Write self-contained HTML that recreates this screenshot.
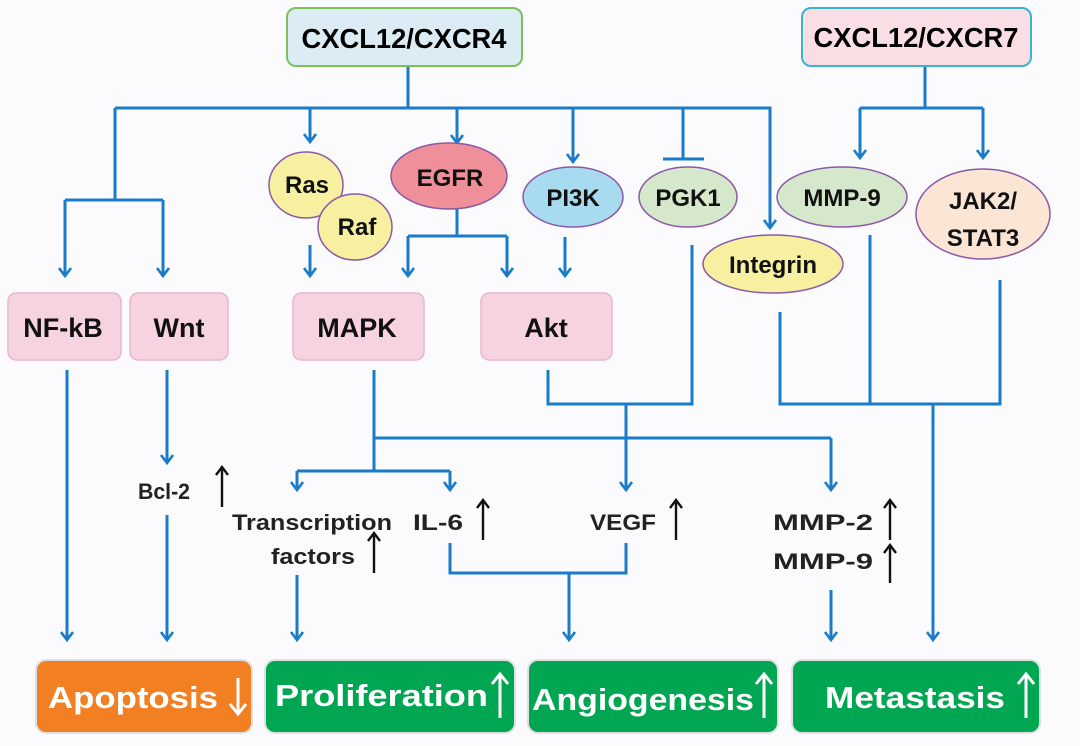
<!DOCTYPE html>
<html><head><meta charset="utf-8"><style>
body{margin:0;background:#fbfbfd}
svg{display:block}
text{font-family:"Liberation Sans",sans-serif;font-weight:bold}
</style></head><body>
<svg width="1080" height="746" viewBox="0 0 1080 746" xmlns="http://www.w3.org/2000/svg">
<defs>
<marker id="a" markerWidth="14" markerHeight="14" refX="12" refY="7" orient="auto" markerUnits="userSpaceOnUse" viewBox="0 0 14 14">
<path d="M4,1 L12,7 L4,13" fill="none" stroke="#1a7cc8" stroke-width="2.6"/></marker>
<marker id="k" markerWidth="14" markerHeight="14" refX="12" refY="7" orient="auto" markerUnits="userSpaceOnUse" viewBox="0 0 14 14">
<path d="M4,1 L12,7 L4,13" fill="none" stroke="#111" stroke-width="2.4"/></marker>
</defs>
<rect width="1080" height="746" fill="#fbfbfd"/>
<g fill="none" stroke="#1a7cc8" stroke-width="3">
<path d="M408,66 V108"/>
<path d="M115,108 H770 V228" marker-end="url(#a)"/>
<path d="M115,108 V200 M65,200 H163"/>
<path d="M65,200 V276" marker-end="url(#a)"/>
<path d="M163,200 V276" marker-end="url(#a)"/>
<path d="M310,108 V142" marker-end="url(#a)"/>
<path d="M457,108 V143" marker-end="url(#a)"/>
<path d="M573,108 V162" marker-end="url(#a)"/>
<path d="M683,108 V159 M663,159 H704"/>
<path d="M310,245 V276" marker-end="url(#a)"/>
<path d="M457,209 V236 M408,236 H507"/>
<path d="M408,236 V276" marker-end="url(#a)"/>
<path d="M507,236 V276" marker-end="url(#a)"/>
<path d="M565,237 V276" marker-end="url(#a)"/>
<path d="M925,66 V108 M860,108 H983"/>
<path d="M860,108 V158" marker-end="url(#a)"/>
<path d="M983,108 V158" marker-end="url(#a)"/>
<path d="M67,370 V640" marker-end="url(#a)"/>
<path d="M167,370 V463" marker-end="url(#a)"/>
<path d="M167,515 V640" marker-end="url(#a)"/>
<path d="M374,370 V471 M297,471 H450 M374,438 H831"/>
<path d="M297,471 V490" marker-end="url(#a)"/>
<path d="M450,471 V490" marker-end="url(#a)"/>
<path d="M831,438 V490" marker-end="url(#a)"/>
<path d="M548,370 V404 H692 V245"/>
<path d="M626,404 V490" marker-end="url(#a)"/>
<path d="M780,312 V404 H1000 V280 M870,235 V404"/>
<path d="M933,404 V640" marker-end="url(#a)"/>
<path d="M297,575 V640" marker-end="url(#a)"/>
<path d="M450,543 V573 H626 V543"/>
<path d="M569,573 V640" marker-end="url(#a)"/>
<path d="M831,590 V640" marker-end="url(#a)"/>
</g>
<rect x="287" y="8" width="235" height="58" rx="9" fill="#dcecf4" stroke="#7cc05a" stroke-width="2"/>
<text x="404" y="48" font-size="28" text-anchor="middle" textLength="205" lengthAdjust="spacingAndGlyphs">CXCL12/CXCR4</text>
<rect x="802" y="8" width="229" height="58" rx="9" fill="#f9dfe3" stroke="#3ab3d0" stroke-width="2"/>
<text x="916" y="47" font-size="28" text-anchor="middle" textLength="205" lengthAdjust="spacingAndGlyphs">CXCL12/CXCR7</text>
<g stroke="#8a5aa8" stroke-width="1.5">
<ellipse cx="306" cy="185" rx="37" ry="33" fill="#f6f0a0"/>
<ellipse cx="355" cy="227" rx="37" ry="33" fill="#f6f0a0"/>
<ellipse cx="449" cy="176" rx="58" ry="33" fill="#ef8f99"/>
<ellipse cx="573" cy="197" rx="50" ry="30" fill="#a8daf0"/>
<ellipse cx="688" cy="197" rx="49" ry="30" fill="#d6e8cc"/>
<ellipse cx="842" cy="197" rx="65" ry="30" fill="#d6e8cc"/>
<ellipse cx="983" cy="214" rx="67" ry="45" fill="#fbe6d6"/>
<ellipse cx="773" cy="264" rx="70" ry="29" fill="#f6f0a0"/>
</g>
<g font-size="24" text-anchor="middle" fill="#111">
<text x="307" y="193">Ras</text>
<text x="357" y="235">Raf</text>
<text x="450" y="186">EGFR</text>
<text x="573" y="206">PI3K</text>
<text x="688" y="206">PGK1</text>
<text x="842" y="206">MMP-9</text>
<text x="983" y="209">JAK2/</text>
<text x="983" y="246">STAT3</text>
<text x="773" y="273">Integrin</text>
</g>
<g fill="#f7d2e0" stroke="#e8b8c8" stroke-width="1.5">
<rect x="8" y="293" width="113" height="67" rx="8"/>
<rect x="130" y="293" width="98" height="67" rx="8"/>
<rect x="293" y="293" width="131" height="67" rx="8"/>
<rect x="481" y="293" width="131" height="67" rx="8"/>
</g>
<g font-size="27" text-anchor="middle" fill="#111">
<text x="63" y="337">NF-kB</text>
<text x="179" y="337">Wnt</text>
<text x="357" y="337">MAPK</text>
<text x="546" y="337">Akt</text>
</g>
<g font-size="22" fill="#222">
<text x="138" y="499" textLength="52" lengthAdjust="spacingAndGlyphs">Bcl-2</text>
<text x="232" y="530" textLength="160" lengthAdjust="spacingAndGlyphs">Transcription</text>
<text x="271" y="564" textLength="84" lengthAdjust="spacingAndGlyphs">factors</text>
<text x="413" y="530" textLength="50" lengthAdjust="spacingAndGlyphs">IL-6</text>
<text x="590" y="530" textLength="66" lengthAdjust="spacingAndGlyphs">VEGF</text>
<text x="773" y="530" textLength="100" lengthAdjust="spacingAndGlyphs">MMP-2</text>
<text x="773" y="569" textLength="100" lengthAdjust="spacingAndGlyphs">MMP-9</text>
</g>
<g stroke="#111" stroke-width="2.4" fill="none">
<path d="M222,507 V467" marker-end="url(#k)"/>
<path d="M374,573 V533" marker-end="url(#k)"/>
<path d="M483,540 V500" marker-end="url(#k)"/>
<path d="M676,540 V500" marker-end="url(#k)"/>
<path d="M890,540 V500" marker-end="url(#k)"/>
<path d="M890,583 V545" marker-end="url(#k)"/>
</g>
<rect x="36" y="660" width="216" height="73" rx="10" fill="#f27f22" stroke="#e0e0e0" stroke-width="2"/>
<rect x="265" y="660" width="250" height="73" rx="10" fill="#00a651" stroke="#e0e0e0" stroke-width="2"/>
<rect x="528" y="660" width="250" height="73" rx="10" fill="#00a651" stroke="#e0e0e0" stroke-width="2"/>
<rect x="792" y="660" width="248" height="73" rx="10" fill="#00a651" stroke="#e0e0e0" stroke-width="2"/>
<g font-size="31" fill="#fff">
<text x="48" y="708" textLength="170" lengthAdjust="spacingAndGlyphs">Apoptosis</text>
<text x="275" y="706" textLength="213" lengthAdjust="spacingAndGlyphs">Proliferation</text>
<text x="532" y="710" textLength="222" lengthAdjust="spacingAndGlyphs">Angiogenesis</text>
<text x="825" y="708" textLength="180" lengthAdjust="spacingAndGlyphs">Metastasis</text>
</g>
<g stroke="#fff" stroke-width="3" fill="none">
<path d="M238,678 V714 M230,704 L238,714 L246,704"/>
<path d="M500,718 V674 M492,684 L500,674 L508,684"/>
<path d="M764,718 V674 M756,684 L764,674 L772,684"/>
<path d="M1026,718 V674 M1018,684 L1026,674 L1034,684"/>
</g>
</svg>
</body></html>
